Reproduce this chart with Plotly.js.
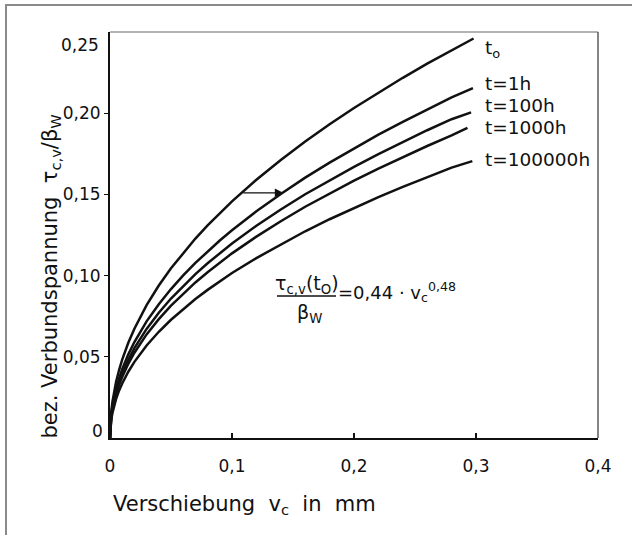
<!DOCTYPE html>
<html>
<head>
<meta charset="utf-8">
<script src="https://cdn.plot.ly/plotly-3.0.1.min.js"></script>
<style>
  html, body { margin: 0; padding: 0; background: #fff; }
  #chart { width: 632px; height: 535px; }
</style>
</head>
<body>
<div id="chart"></div>
<script>
// Displacement v_c in mm (shared sampling of all curves)
const vc = [0, 0.0005, 0.001, 0.002, 0.003, 0.005, 0.0075, 0.01, 0.015, 0.02, 0.03, 0.04, 0.05,
            0.06, 0.07, 0.08, 0.09, 0.10, 0.12, 0.14, 0.16, 0.18, 0.20, 0.22, 0.24, 0.26, 0.28];

// Related bond stress tau_c,v / beta_W for each load duration
const tau_t0      = [0, 0.0115, 0.0160, 0.0223, 0.0271, 0.0346, 0.0420, 0.0483, 0.0586, 0.0673, 0.0818, 0.0939, 0.1045,
                     0.1140, 0.1228, 0.1309, 0.1385, 0.1457, 0.1590, 0.1712, 0.1826, 0.1932, 0.2032, 0.2127, 0.2218, 0.2305, 0.2388];
const tau_1h      = [0, 0.0101, 0.0140, 0.0196, 0.0238, 0.0304, 0.0369, 0.0424, 0.0515, 0.0591, 0.0718, 0.0824, 0.0917,
                     0.1001, 0.1078, 0.1149, 0.1216, 0.1279, 0.1396, 0.1503, 0.1603, 0.1696, 0.1784, 0.1868, 0.1947, 0.2024, 0.2097];
const tau_100h    = [0, 0.0094, 0.0131, 0.0183, 0.0223, 0.0284, 0.0345, 0.0397, 0.0482, 0.0553, 0.0672, 0.0771, 0.0859,
                     0.0937, 0.1009, 0.1076, 0.1139, 0.1198, 0.1307, 0.1407, 0.1501, 0.1588, 0.1670, 0.1748, 0.1823, 0.1895, 0.1963];
const tau_1000h   = [0, 0.0089, 0.0125, 0.0174, 0.0211, 0.0270, 0.0328, 0.0376, 0.0457, 0.0525, 0.0638, 0.0732, 0.0815,
                     0.0889, 0.0958, 0.1021, 0.1080, 0.1137, 0.1240, 0.1335, 0.1424, 0.1507, 0.1585, 0.1659, 0.1730, 0.1798, 0.1863];
const tau_100000h = [0, 0.0080, 0.0111, 0.0155, 0.0189, 0.0241, 0.0293, 0.0336, 0.0408, 0.0469, 0.0570, 0.0654, 0.0728,
                     0.0795, 0.0856, 0.0912, 0.0965, 0.1016, 0.1108, 0.1193, 0.1273, 0.1347, 0.1416, 0.1483, 0.1546, 0.1607, 0.1665];

// Curve end points (each curve stops at a slightly different displacement)
const endV   = [0.298, 0.2975, 0.296, 0.293, 0.297];
const endTau = [0.246, 0.2155, 0.2005, 0.191, 0.1705];

const curveNames = ["t<sub>o</sub>", "t=1h", "t=100h", "t=1000h", "t=100000h"];
const curveTaus  = [tau_t0, tau_1h, tau_100h, tau_1000h, tau_100000h];
// vertical placement of each curve label (stress units)
const labelTau   = [0.2395, 0.2185, 0.2050, 0.1915, 0.1712];

// Horizontal arrow from the t0 curve to the t=1h curve
const arrowFrom = [0.108, 0.151];
const arrowTo   = [0.142, 0.151];

// Axis ticks
const xTicks = [0, 0.1, 0.2, 0.3, 0.4];
const xTickText = ["0", "0,1", "0,2", "0,3", "0,4"];
const yTicks = [0.05, 0.10, 0.15, 0.20];
const yTickText = ["0,05", "0,10", "0,15", "0,20"];

// plot-area geometry in pixels
const L = 110, T = 32, W = 488, H = 406;
const px = x => (x - L) / W;
const py = y => (T + H - y) / H;

const FONT = "DejaVu Sans, Verdana, sans-serif";

const traces = curveTaus.map((arr, i) => ({
  x: vc.concat([endV[i]]),
  y: arr.concat([endTau[i]]),
  type: "scatter",
  mode: "lines",
  line: { color: "#111", width: 2.5, shape: "linear" },
  hoverinfo: "skip",
  showlegend: false
}));

const annotations = [];

// curve labels
curveNames.forEach((name, i) => {
  annotations.push({
    xref: "x", yref: "y", x: 0.3, y: labelTau[i],
    xanchor: "left", yanchor: "middle", xshift: 7,
    text: name, showarrow: false,
    font: { family: FONT, size: 18.5, color: "#111" }
  });
});

// arrow
annotations.push({
  xref: "x", yref: "y", axref: "x", ayref: "y",
  x: arrowTo[0], y: arrowTo[1], ax: arrowFrom[0], ay: arrowFrom[1],
  text: "", showarrow: true, arrowhead: 2, arrowsize: 1.3, arrowwidth: 1.3,
  arrowcolor: "#111", standoff: 0
});

// y tick labels at the ends of the axis
annotations.push({
  xref: "paper", yref: "paper", x: px(105), y: py(431),
  xanchor: "right", yanchor: "middle", text: "0", showarrow: false,
  font: { family: FONT, size: 17, color: "#111" }
});
annotations.push({
  xref: "paper", yref: "paper", x: px(101), y: py(45),
  xanchor: "right", yanchor: "middle", text: "0,25", showarrow: false,
  font: { family: FONT, size: 17, color: "#111" }
});

// axis titles
annotations.push({
  xref: "paper", yref: "paper", x: px(111), y: py(505),
  xanchor: "left", yanchor: "middle", showarrow: false,
  text: "Verschiebung\u00a0\u00a0v<sub>c</sub>\u00a0\u00a0in\u00a0\u00a0mm",
  font: { family: FONT, size: 21, color: "#111" }
});
annotations.push({
  xref: "paper", yref: "paper", x: px(50), y: py(441),
  xanchor: "center", yanchor: "bottom", showarrow: false, textangle: -90,
  text: "bez. Verbundspannung\u00a0\u00a0\u03c4<sub>c,v</sub>/\u03b2<sub>W</sub>",
  font: { family: FONT, size: 21, color: "#111" }
});

// formula: tau_c,v(t0)/beta_W = 0,44 * v_c^0,48
annotations.push({
  xref: "paper", yref: "paper", x: px(307), y: py(284),
  xanchor: "center", yanchor: "middle", showarrow: false,
  text: "\u03c4<sub>c,v</sub>(t<sub>O</sub>)",
  font: { family: FONT, size: 19, color: "#111" }
});
annotations.push({
  xref: "paper", yref: "paper", x: px(309), y: py(314),
  xanchor: "center", yanchor: "middle", showarrow: false,
  text: "\u03b2<sub>W</sub>",
  font: { family: FONT, size: 19, color: "#111" }
});
annotations.push({
  xref: "paper", yref: "paper", x: px(336), y: py(292),
  xanchor: "left", yanchor: "middle", showarrow: false,
  text: "=0,44\u00a0\u00b7\u00a0v<sub>c</sub><sup>0,48</sup>",
  font: { family: FONT, size: 18, color: "#111" }
});

const shapes = [
  // outer frame: top and left edges
  { type: "line", xref: "paper", yref: "paper", x0: px(6), x1: px(640), y0: py(5), y1: py(5),
    line: { color: "#8a8a8a", width: 2 } },
  { type: "line", xref: "paper", yref: "paper", x0: px(6), x1: px(6), y0: py(4), y1: py(540),
    line: { color: "#8a8a8a", width: 2 } },
  // plot box: top and right edges
  { type: "line", xref: "paper", yref: "paper", x0: 0, x1: 1, y0: 1, y1: 1,
    line: { color: "#9a9a9a", width: 1.5 } },
  { type: "line", xref: "paper", yref: "paper", x0: 1, x1: 1, y0: 0, y1: 1,
    line: { color: "#333", width: 1.2 } },
  // fraction bar of the formula
  { type: "line", xref: "paper", yref: "paper", x0: px(277), x1: px(336), y0: py(296), y1: py(296),
    line: { color: "#111", width: 1.4 } }
];

const layout = {
  width: 632, height: 535,
  margin: { l: L, r: 632 - L - W, t: T, b: 535 - T - H, pad: 0 },
  paper_bgcolor: "#fff", plot_bgcolor: "#fff",
  showlegend: false,
  xaxis: {
    range: [0, 0.4], tickvals: xTicks, ticktext: xTickText,
    ticks: "inside", ticklen: 5, tickwidth: 1.3, tickcolor: "#111",
    showline: true, linecolor: "#111", linewidth: 2,
    showgrid: false, zeroline: false, ticklabelstandoff: 12,
    tickfont: { family: FONT, size: 17, color: "#111" }
  },
  yaxis: {
    range: [0, 0.25], tickvals: yTicks, ticktext: yTickText,
    ticks: "outside", ticklen: 4, tickwidth: 1.3, tickcolor: "#111",
    showline: true, linecolor: "#111", linewidth: 2,
    showgrid: false, zeroline: false,
    tickfont: { family: FONT, size: 17, color: "#111" }
  },
  annotations: annotations,
  shapes: shapes
};

Plotly.newPlot("chart", traces, layout, { staticPlot: true, displayModeBar: false });
</script>
</body>
</html>
